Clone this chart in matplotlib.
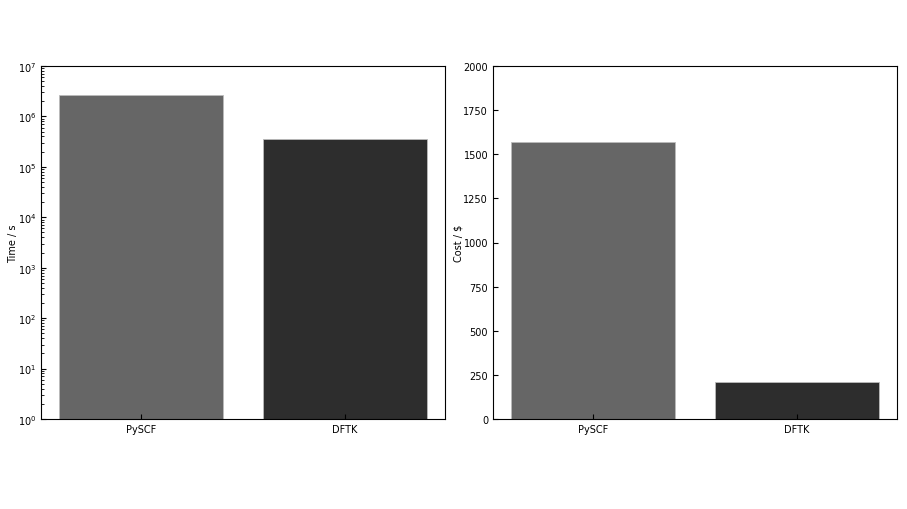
import matplotlib
matplotlib.use("Agg")
import matplotlib.pyplot as plt

codes = ["PySCF", "DFTK"]
time_s = [2.7e6, 3.6e5]
cost_usd = [1568, 211]
colors = ["#666666", "#2d2d2d"]

plt.rcParams["font.size"] = 7

fig = plt.figure(figsize=(9.07, 5.10), dpi=100)
W, H = 907, 510
ax1 = fig.add_axes([41 / W, 1 - 420 / H, 404 / W, 353 / H])
ax2 = fig.add_axes([493 / W, 1 - 420 / H, 404 / W, 353 / H])

# time on log scale
ax1.bar(codes, time_s, color=colors, edgecolor="#bbbbbb", linewidth=0.6, log=True)
ax1.set_ylim(1, 1e7)
ax1.set_ylabel("Time / s", labelpad=0)

# cost in dollars
ax2.bar(codes, cost_usd, color=colors, edgecolor="#bbbbbb", linewidth=0.6)
ax2.set_ylim(0, 2000)
ax2.set_yticks([0, 250, 500, 750, 1000, 1250, 1500, 1750, 2000])
ax2.set_ylabel("Cost / $", labelpad=0)

for ax in (ax1, ax2):
    ax.tick_params(direction="in", which="both", labelsize=7)

fig.savefig("out.png", dpi=100)
